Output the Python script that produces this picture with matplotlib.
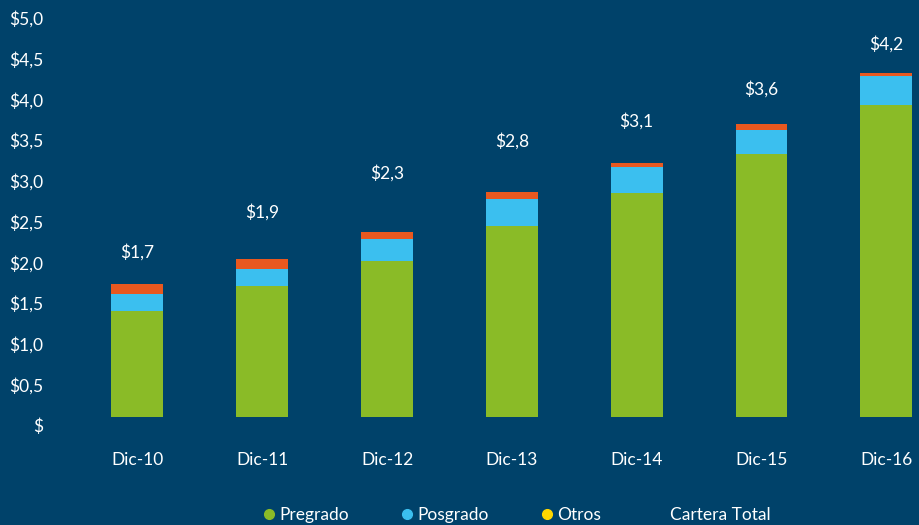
import matplotlib.pyplot as plt
import matplotlib.transforms as mtransforms
from matplotlib.lines import Line2D
import numpy as np

# data
periodos = ['Dic-10', 'Dic-11', 'Dic-12', 'Dic-13', 'Dic-14', 'Dic-15', 'Dic-16']
pregrado = [1.30, 1.61, 1.92, 2.35, 2.75, 3.23, 3.83]
posgrado = [0.21, 0.21, 0.27, 0.33, 0.32, 0.30, 0.36]
otros = [0.12, 0.12, 0.08, 0.08, 0.05, 0.07, 0.03]
# invisible "Cartera Total" series that carries the labels
cartera_total = [2.03, 2.52, 2.99, 3.39, 3.64, 4.03, 4.58]
cartera_labels = ['$1,7', '$1,9', '$2,3', '$2,8', '$3,1', '$3,6', '$4,2']
yticks = [0, 0.5, 1.0, 1.5, 2.0, 2.5, 3.0, 3.5, 4.0, 4.5, 5.0]
ytick_labels = ['$', '$0,5', '$1,0', '$1,5', '$2,0', '$2,5', '$3,0', '$3,5', '$4,0', '$4,5', '$5,0']

bg = '#00426A'
c_pre = '#8ABB27'
c_pos = '#3BBFEF'
c_otr = '#E8581F'
c_leg_otr = '#FFD700'

plt.rcParams['font.family'] = ['Lato', 'DejaVu Sans']

fig = plt.figure(figsize=(9.2, 5.25), dpi=100, facecolor=bg)
ax = fig.add_axes([75 / 920, 108 / 525, 845 / 920, 417 / 525])
ax.set_facecolor(bg)

x = np.arange(len(periodos))
w = 0.416
pre = np.array(pregrado)
pos = np.array(posgrado)
ax.bar(x, pre, w, color=c_pre)
ax.bar(x, pos, w, bottom=pre, color=c_pos)
ax.bar(x, otros, w, bottom=pre + pos, color=c_otr)

ax.plot(x, cartera_total, alpha=0)
for xi, yi, lab in zip(x, cartera_total, cartera_labels):
    ax.text(xi, yi, lab, ha='center', va='center', color='white', fontsize=12.5)

ax.set_xlim(-0.5, 6.27)
ax.set_ylim(0, 417 / 81.4)
ax.set_xticks(x)
ax.set_xticklabels(periodos)
ax.set_yticks(yticks)
ax.set_yticklabels(ytick_labels)
ax.tick_params(length=0, colors='white', labelsize=12.5)
ax.tick_params(axis='x', pad=25)
ax.tick_params(axis='y', pad=23)
off = mtransforms.ScaledTranslation(0, -8 / 100, fig.dpi_scale_trans)
for lab in ax.get_yticklabels():
    lab.set_transform(lab.get_transform() + off)
for s in ax.spines.values():
    s.set_visible(False)

handles = [
    Line2D([], [], marker='o', ls='none', color=c_pre, markersize=7),
    Line2D([], [], marker='o', ls='none', color=c_pos, markersize=7),
    Line2D([], [], marker='o', ls='none', color=c_leg_otr, markersize=7),
    Line2D([], [], ls='none'),
]
leg = fig.legend(handles, ['Pregrado', 'Posgrado', 'Otros', 'Cartera Total'],
                 loc='center', bbox_to_anchor=(515 / 920, 1 - 515 / 525), ncol=4,
                 frameon=False, fontsize=12.5, labelcolor='white',
                 handletextpad=0.1, columnspacing=2.85, handlelength=1.0)

fig.savefig('out.png', dpi=100, facecolor=bg)
